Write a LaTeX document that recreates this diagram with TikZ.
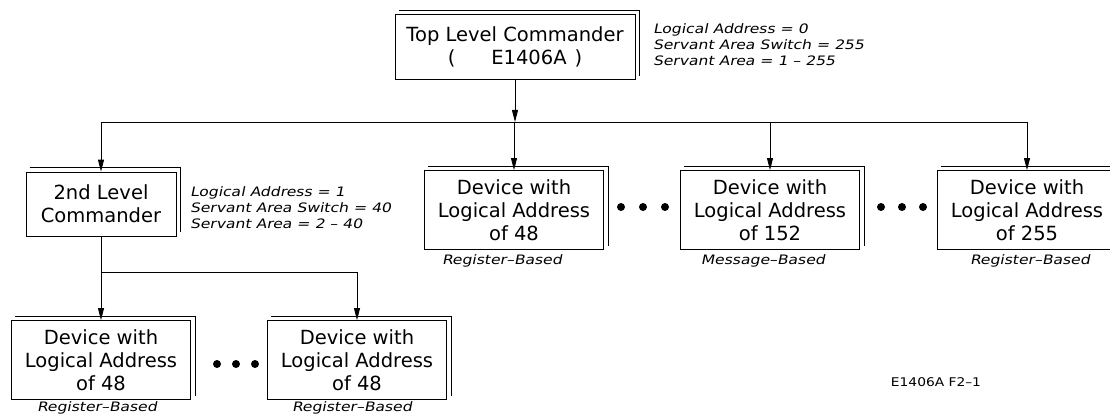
\documentclass[tikz,border=0pt]{standalone}
\usepackage{fontspec}
\setmainfont{DejaVu Sans}
\newfontfamily\notefont{DejaVu Sans}[FakeStretch=1.2,FakeSlant=0.2]
\newfontfamily\reffont{DejaVu Sans}[FakeStretch=1.15]
\usetikzlibrary{arrows.meta,positioning}

\begin{document}
\begin{tikzpicture}[x=1pt,y=-1pt,
        box/.style={draw, line width=0.85pt, align=center, inner sep=0pt, font=\fontsize{19.5}{23}\selectfont},
        devbox/.style={box, minimum width=179pt, minimum height=79pt},
        note/.style={anchor=west, align=left, inner sep=0pt, font=\notefont\fontsize{13}{16}\selectfont},
        kind/.style={inner sep=0pt, font=\notefont\fontsize{13}{16}\selectfont},
        dot/.style={circle, fill, inner sep=0pt, minimum size=8pt},
        wire/.style={line width=0.85pt},
        link/.style={wire, -{Triangle[length=12pt,width=6pt]}},
    ]
    \useasboundingbox (0,0) rectangle (1110,417);
    \clip (0,0) rectangle (1110,417);

    % commanders
    \node[box, minimum width=240pt, minimum height=65pt] (top) at (515,47)
        {Top Level Commander\\(\hspace{36pt}E1406A\hspace{8pt})};
    \node[note] (topnote) at (653,45)
        {Logical Address = 0\\Servant Area Switch = 255\\Servant Area = 1 – 255};
    \node[box, minimum width=150pt, minimum height=64pt] (cmd2) at (101,204)
        {2nd Level\\Commander};
    \node[note] (cmd2note) at (190,208)
        {Logical Address = 1\\Servant Area Switch = 40\\Servant Area = 2 – 40};

    % devices
    \node[devbox] (dev48) at (514,210) {Device with\\Logical Address\\of 48};
    \node[devbox] (dev152) at (770,210) {Device with\\Logical Address\\of 152};
    \node[devbox] (dev255) at (1027,210) {Device with\\Logical Address\\of 255};
    \node[devbox] (sub1) at (101,360) {Device with\\Logical Address\\of 48};
    \node[devbox] (sub2) at (357,360) {Device with\\Logical Address\\of 48};

    \node[kind] (kind48) at (502,261) {Register–Based};
    \node[kind] (kind152) at (763,261) {Message–Based};
    \node[kind] (kind255) at (1030,261) {Register–Based};
    \node[kind] (kind1) at (97,408) {Register–Based};
    \node[kind] (kind2) at (352,408) {Register–Based};

    % dots
    \foreach \x in {621,643,665,881,902,923}
        \node[dot] (dot\x) at (\x,207) {};
    \foreach \x in {217,236,255}
        \node[dot] (dot\x) at (\x,364) {};

    % shadows
    \foreach \n in {top,cmd2,dev48,dev152,dev255,sub1,sub2}
        \draw[wire] ([shift={(4pt,4pt)}]\n.north west) -| ([shift={(4pt,4pt)}]\n.south east);

    % connectors
    \coordinate (bus) at (515,122);
    \coordinate (bus2) at (101,272);
    \draw[link] (top.south) -- (top.south |- bus);
    \draw[wire] (cmd2.north |- bus) -- (dev255.north |- bus);
    \foreach \n in {cmd2,dev48,dev152,dev255}
        \draw[link] (\n.north |- bus) -- (\n.north);
    \draw[wire] (cmd2.south) -- (bus2);
    \draw[wire] (bus2) -- (sub2.north |- bus2);
    \foreach \n in {sub1,sub2}
        \draw[link] (\n.north |- bus2) -- (\n.north);

    \node[font=\reffont\fontsize{12}{14}\selectfont] (figref) at (936,382) {E1406A F2–1};
\end{tikzpicture}
\end{document}
